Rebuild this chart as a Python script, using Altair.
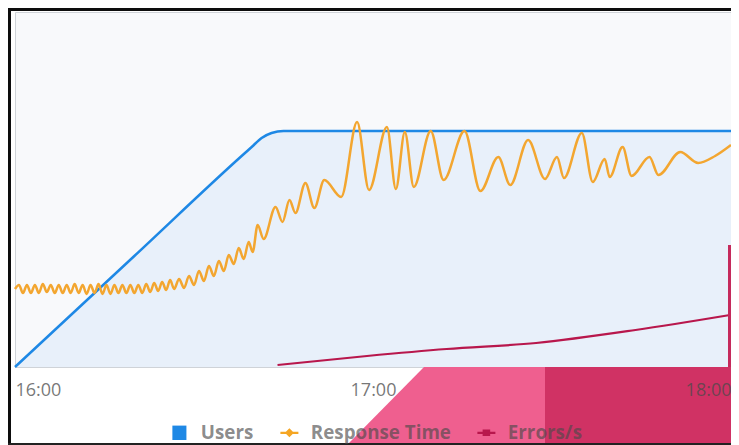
import altair as alt
import pandas as pd

DAY = "2024-03-12"
START = f"{DAY} 16:00:00"

series_names = ["Users", "Response Time", "Errors/s"]
series_colors = ["#1e88e5", "#f5a623", "#b8174c"]
series_symbols = [
    "M-0.78,-0.8H0.78V0.8H-0.78Z",
    "M-1,-0.13H1V0.13H-1ZM-0.5,0L0,-0.5L0.5,0L0,0.5Z",
    "M-1,-0.13H1V0.13H-1ZM-0.42,-0.36H0.42V0.36H-0.42Z",
]
x_ticks = ["16:00", "17:00", "18:00"]

# seconds after 16:00 -> active users
users_sec = [0, 1200, 2290, 2380, 2480, 2580, 2700, 7200]
users_count = [0, 222, 424, 440, 458, 468, 472, 472]

# seconds after 16:00 -> response time (ms)
rt_sec = [0, 40, 80, 120, 160, 200, 240, 280, 320, 360, 400, 440, 480, 520, 560, 600,
          640, 680, 720, 760, 800, 840, 880, 920, 960, 1000, 1040, 1080, 1120, 1160,
          1200, 1240, 1280, 1320, 1360, 1400, 1440, 1480, 1520, 1560, 1600,
          1650, 1700, 1750, 1800, 1850, 1900, 1950, 2000, 2050, 2100, 2150, 2200,
          2250, 2300, 2350,
          2390, 2440, 2500, 2620, 2690, 2760, 2820, 2920, 3010, 3110, 3280, 3440,
          3560, 3740, 3830, 3920, 4010, 4180, 4310, 4520, 4680, 4860, 4980, 5160,
          5330, 5450, 5520, 5700, 5810, 5930, 5980, 6110, 6200, 6380, 6470, 6690,
          6870, 7040, 7200]
rt_ms = [156, 164, 148, 164, 148, 164, 148, 166, 150, 164, 148, 164, 148, 164, 148, 166,
         148, 164, 146, 164, 148, 166, 146, 164, 146, 164, 148, 164, 148, 164,
         148, 164, 148, 166, 150, 168, 152, 170, 154, 174, 156,
         176, 158, 182, 164, 192, 172, 202, 182, 212, 192, 224, 206,
         238, 216, 250,
         230, 284, 256, 320, 290, 334, 308, 368, 318, 374, 340, 490,
         354, 480, 356, 470, 360, 472, 374, 472, 352, 420, 364, 454,
         376, 420, 378, 468, 370, 416, 380, 440, 382, 420, 384, 430,
         408, 422, 444]

# seconds after 16:00 -> errors per second
err_sec = [2640, 3540, 4340, 5240, 6240, 7190]
err_rate = [0.4, 2.2, 3.6, 4.8, 7.4, 10.4]


def stamp(secs):
    return pd.Timestamp(START) + pd.to_timedelta(secs, unit="s")


def dt(label):
    h, m = label.split(":")
    return alt.DateTime(year=2024, month=3, date=12, hours=int(h), minutes=int(m))


users_df = pd.DataFrame({"time": stamp(users_sec), "users": users_count})
rt_df = pd.DataFrame({"time": stamp(rt_sec), "ms": rt_ms})
err_df = pd.DataFrame({"time": stamp(err_sec), "rate": err_rate})
legend_df = pd.DataFrame({"series": series_names})
one = pd.DataFrame({"d": [0]})

x_enc = alt.X(
    "time:T",
    title=None,
    scale=alt.Scale(domain=[dt(x_ticks[0]), dt(x_ticks[-1])]),
    axis=alt.Axis(
        values=[dt(t) for t in x_ticks],
        format="%H:%M",
        labelFont="Open Sans",
        labelFontSize=18,
        labelColor="#4a4a4a",
        labelOpacity=0.75,
        labelPadding=14,
        labelFlush=True,
        ticks=False,
        tickSize=0,
        domain=False,
        grid=False,
        zindex=1,
    ),
)

users = alt.Chart(users_df).mark_area(
    interpolate="monotone",
    color="#e1edfa",
    line={"color": series_colors[0], "strokeWidth": 2.5},
).encode(x=x_enc, y=alt.Y("users:Q", scale=alt.Scale(domain=[0, 710]), axis=None))

errors = alt.Chart(err_df).mark_line(
    interpolate="monotone", color=series_colors[2], strokeWidth=2.2
).encode(x=x_enc, y=alt.Y("rate:Q", scale=alt.Scale(domain=[0, 71]), axis=None))

resp = alt.Chart(rt_df).mark_line(
    interpolate="monotone", color="#f3a630", strokeWidth=2.5
).encode(x=x_enc, y=alt.Y("ms:Q", scale=alt.Scale(domain=[0, 710]), axis=None))

legend_props = dict(
    orient="none",
    legendX=155,
    legendY=411,
    direction="horizontal",
    title=None,
    symbolSize=324,
    symbolStrokeWidth=0,
    symbolOpacity=1,
    labelFont="Open Sans",
    labelFontSize=18.8,
    labelFontWeight="bold",
    labelColor="#4a4a4a",
    labelOpacity=0.65,
    labelOffset=12,
    columnPadding=26,
    padding=0,
    zindex=2,
)

legend_layer = alt.Chart(legend_df).mark_point(filled=True, opacity=0).encode(
    x=alt.value(0),
    y=alt.value(0),
    color=alt.Color("series:N", scale=alt.Scale(domain=series_names, range=series_colors),
                    legend=alt.Legend(**legend_props)),
    shape=alt.Shape("series:N", scale=alt.Scale(domain=series_names, range=series_symbols),
                    legend=alt.Legend(**legend_props)),
)


def rect(x1, x2, y1, y2, color):
    return alt.Chart(one).mark_rect(color=color, strokeWidth=0).encode(
        x=alt.value(x1), x2=alt.value(x2), y=alt.value(y1), y2=alt.value(y2)
    )


frame_left = rect(-7, -4, -4, 433, "#0d0d0d")
frame_top = rect(-7, 716, -4, -1, "#0d0d0d")
frame_bottom = rect(-7, 716, 431, 433, "#222222")

pink_trap = alt.Chart(one).mark_point(
    shape="M-1.974,1L0,-1L3.103,-1L3.103,1Z", size=6084, filled=True,
    color="#ef5f8f", opacity=1, strokeWidth=0,
).encode(x=alt.value(409), y=alt.value(394))
pink_dark = rect(530, 716, 355, 433, "#d03264")
pink_strip = rect(713, 716, 233, 355, "#c52a5c")

chart = alt.layer(
    users, errors, resp, legend_layer,
    pink_trap, pink_dark, pink_strip,
    frame_left, frame_top, frame_bottom,
).resolve_scale(y="independent").properties(
    width=716,
    height=355,
    padding={"left": 7, "top": 4, "right": 0, "bottom": 78},
    autosize=alt.AutoSizeParams(type="none"),
    background="white",
).configure_view(fill="#f8f9fb", stroke="#cfd3d8", strokeWidth=1)

chart.save("out.html", embed_options={"renderer": "svg", "actions": False})
